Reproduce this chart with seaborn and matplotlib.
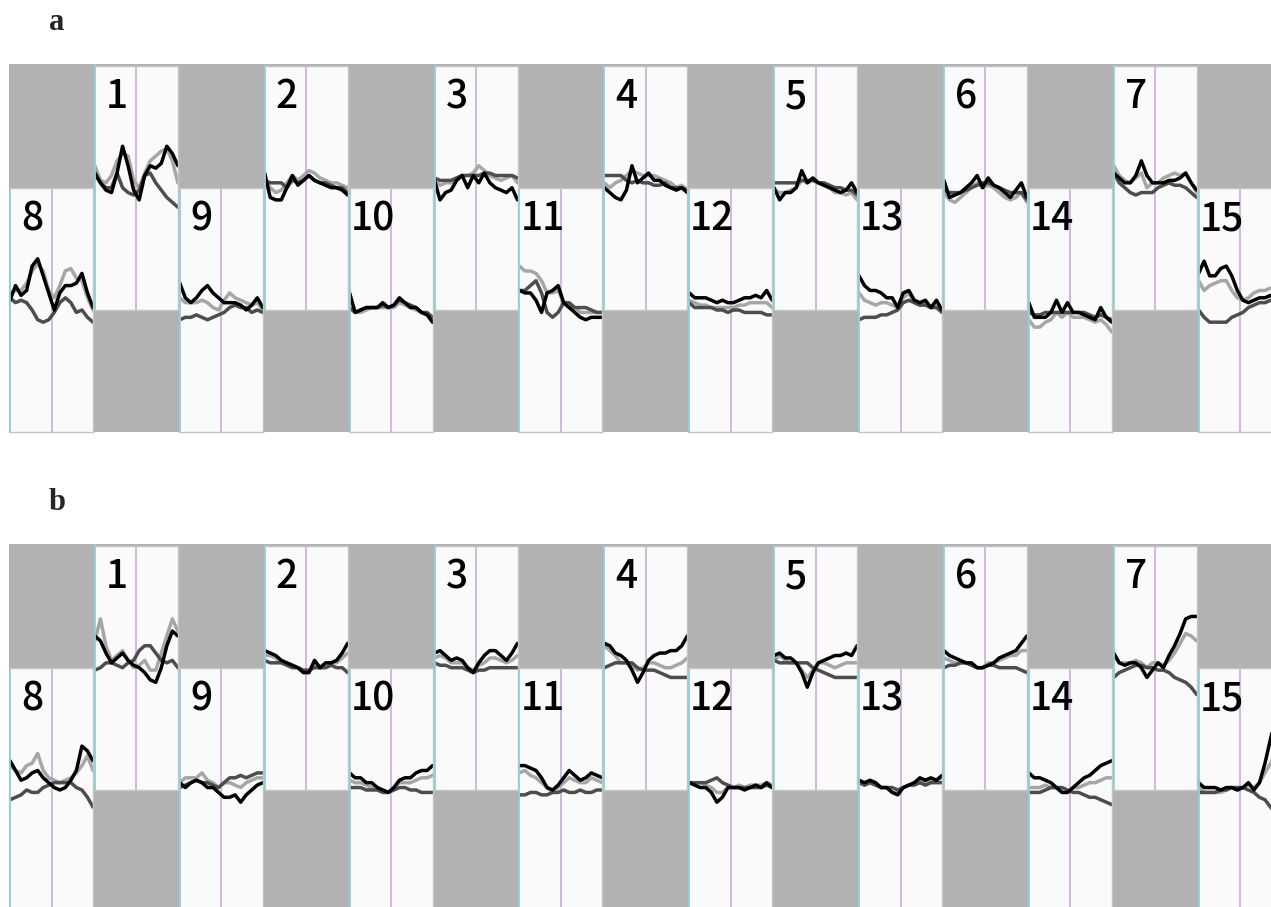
import numpy as np
import pandas as pd
import matplotlib
matplotlib.use("Agg")
import matplotlib.pyplot as plt
import seaborn as sns
from matplotlib.patches import Rectangle

# trace values, % of panel height, 16 samples per trace, keyed by panel number
a_black = {
    1: [56, 52, 49, 48, 56, 67, 59, 49, 45, 55, 59, 58, 60, 67, 64, 59],
    2: [56, 46, 45, 45, 50, 55, 51, 53, 55, 53, 52, 51, 50, 50, 49, 47],
    3: [53, 45, 48, 49, 53, 55, 50, 55, 52, 56, 52, 50, 49, 48, 50, 45],
    4: [50, 48, 46, 45, 49, 59, 52, 54, 56, 53, 53, 51, 50, 49, 50, 48],
    5: [50, 45, 48, 48, 50, 57, 52, 54, 52, 51, 50, 49, 48, 49, 52, 48],
    6: [53, 46, 47, 48, 50, 52, 55, 50, 54, 51, 50, 48, 46, 49, 52, 46],
    7: [56, 54, 52, 52, 55, 61, 55, 52, 52, 52, 53, 53, 54, 56, 52, 49],
    8: [54, 60, 56, 58, 68, 71, 64, 57, 50, 57, 60, 60, 61, 65, 57, 51],
    9: [61, 55, 53, 55, 58, 60, 57, 55, 53, 53, 53, 52, 50, 52, 55, 51],
    10: [57, 49, 50, 51, 51, 51, 53, 51, 52, 55, 53, 51, 51, 49, 48, 45],
    11: [58, 57, 57, 54, 49, 57, 58, 60, 53, 51, 49, 47, 46, 47, 47, 47],
    12: [57, 55, 55, 55, 54, 53, 54, 53, 53, 54, 55, 55, 56, 55, 58, 54],
    13: [64, 60, 58, 58, 57, 55, 55, 51, 57, 58, 54, 53, 54, 51, 54, 50],
    14: [53, 47, 47, 47, 49, 54, 49, 53, 49, 49, 48, 47, 46, 51, 47, 45],
    15: [65, 70, 64, 64, 67, 68, 64, 58, 54, 53, 54, 55, 55, 56, 55, 55],
}
a_dark = {
    1: [56, 52, 50, 50, 56, 50, 48, 47, 49, 55, 56, 52, 49, 46, 44, 42],
    2: [53, 52, 52, 52, 50, 53, 52, 53, 55, 53, 52, 52, 51, 50, 50, 48],
    3: [54, 53, 53, 53, 54, 55, 55, 55, 55, 56, 56, 55, 55, 55, 55, 54],
    4: [55, 55, 55, 55, 53, 52, 53, 52, 52, 51, 51, 52, 50, 50, 50, 49],
    5: [52, 52, 52, 52, 52, 53, 53, 53, 52, 52, 51, 50, 50, 49, 49, 47],
    6: [49, 48, 48, 48, 49, 50, 51, 52, 52, 51, 50, 49, 48, 48, 48, 45],
    7: [56, 52, 50, 48, 47, 48, 48, 48, 50, 51, 52, 51, 51, 50, 48, 46],
    8: [55, 53, 54, 53, 50, 46, 45, 46, 49, 53, 55, 53, 49, 50, 47, 45],
    9: [46, 47, 47, 48, 47, 46, 47, 48, 49, 51, 52, 51, 51, 49, 50, 49],
    10: [51, 49, 50, 51, 51, 51, 52, 51, 52, 54, 53, 52, 51, 49, 49, 47],
    11: [58, 58, 60, 62, 57, 49, 47, 49, 53, 53, 51, 51, 51, 50, 49, 49],
    12: [53, 51, 51, 51, 51, 50, 50, 49, 50, 50, 49, 49, 49, 49, 48, 48],
    13: [46, 47, 47, 47, 48, 48, 49, 50, 53, 54, 53, 52, 52, 51, 51, 49],
    14: [49, 48, 48, 49, 49, 49, 49, 49, 49, 49, 49, 48, 47, 48, 47, 46],
    15: [50, 47, 45, 45, 45, 45, 47, 48, 49, 51, 52, 53, 53, 54, 54, 54],
}
a_light = {
    1: [59, 53, 52, 55, 61, 64, 63, 53, 50, 56, 61, 63, 65, 66, 61, 52],
    2: [53, 50, 48, 49, 52, 55, 53, 55, 57, 56, 54, 53, 52, 52, 51, 50],
    3: [53, 51, 52, 52, 54, 55, 55, 56, 59, 57, 55, 54, 53, 54, 55, 52],
    4: [52, 50, 52, 53, 55, 57, 56, 55, 55, 55, 54, 53, 52, 50, 51, 49],
    5: [49, 48, 48, 49, 50, 53, 52, 53, 52, 51, 50, 48, 48, 47, 48, 45],
    6: [48, 45, 44, 46, 48, 50, 52, 50, 51, 50, 48, 46, 45, 46, 48, 44],
    7: [59, 55, 53, 52, 54, 56, 50, 52, 52, 54, 55, 56, 55, 56, 52, 48],
    8: [57, 58, 58, 61, 66, 69, 66, 58, 55, 60, 66, 67, 63, 62, 55, 50],
    9: [55, 53, 53, 53, 54, 53, 51, 50, 54, 57, 55, 54, 53, 52, 53, 50],
    10: [51, 49, 49, 50, 51, 51, 51, 51, 51, 53, 52, 51, 50, 49, 48, 46],
    11: [68, 66, 66, 65, 62, 57, 57, 58, 53, 51, 51, 49, 49, 49, 49, 49],
    12: [54, 53, 52, 52, 51, 51, 51, 51, 51, 52, 52, 53, 53, 53, 53, 51],
    13: [57, 54, 53, 52, 53, 53, 52, 51, 55, 57, 53, 52, 53, 51, 52, 49],
    14: [46, 43, 43, 45, 46, 49, 47, 49, 47, 47, 47, 46, 45, 46, 44, 41],
    15: [62, 58, 60, 61, 62, 62, 58, 55, 54, 55, 57, 58, 58, 59, 58, 58],
}
b_black = {
    1: [63, 61, 56, 52, 54, 56, 53, 51, 50, 48, 45, 44, 50, 59, 65, 63],
    2: [57, 56, 55, 53, 52, 51, 50, 48, 48, 53, 50, 52, 52, 53, 56, 60],
    3: [56, 57, 55, 53, 54, 53, 50, 48, 52, 55, 57, 57, 55, 53, 56, 60],
    4: [60, 59, 56, 55, 53, 49, 44, 48, 53, 55, 56, 56, 57, 57, 59, 63],
    5: [55, 56, 54, 54, 52, 48, 42, 48, 52, 53, 54, 55, 55, 56, 55, 59],
    6: [57, 55, 54, 53, 52, 52, 50, 50, 51, 52, 54, 55, 56, 57, 60, 63],
    7: [56, 52, 51, 52, 52, 50, 46, 49, 52, 50, 55, 59, 64, 70, 71, 71],
    8: [62, 58, 54, 55, 57, 58, 55, 53, 51, 50, 51, 54, 58, 68, 66, 62],
    9: [53, 51, 53, 54, 53, 51, 51, 49, 47, 47, 48, 45, 48, 50, 52, 53],
    10: [57, 55, 55, 53, 53, 51, 50, 49, 51, 54, 55, 55, 57, 58, 58, 60],
    11: [60, 60, 59, 58, 55, 51, 50, 52, 55, 58, 56, 54, 55, 57, 56, 55],
    12: [53, 52, 51, 51, 49, 45, 47, 51, 51, 51, 50, 51, 52, 51, 53, 51],
    13: [54, 53, 54, 53, 51, 51, 49, 48, 51, 52, 53, 55, 54, 55, 54, 56],
    14: [57, 55, 55, 54, 53, 51, 49, 49, 51, 53, 55, 56, 58, 60, 61, 62],
    15: [53, 51, 51, 51, 50, 51, 51, 50, 51, 53, 50, 53, 61, 71, 80, 88],
}
b_dark = {
    1: [49, 50, 52, 52, 51, 50, 52, 53, 57, 59, 59, 56, 53, 52, 53, 50],
    2: [53, 52, 52, 52, 51, 50, 50, 49, 49, 50, 50, 50, 51, 50, 50, 48],
    3: [52, 51, 51, 50, 50, 50, 49, 48, 49, 49, 50, 50, 50, 50, 50, 50],
    4: [50, 51, 52, 52, 52, 52, 50, 49, 49, 49, 48, 47, 46, 46, 46, 46],
    5: [53, 52, 52, 52, 52, 52, 52, 50, 49, 48, 47, 46, 46, 46, 46, 46],
    6: [50, 51, 51, 52, 52, 51, 50, 50, 51, 51, 50, 50, 50, 50, 49, 48],
    7: [46, 48, 49, 50, 51, 51, 50, 50, 49, 49, 48, 46, 45, 44, 42, 39],
    8: [46, 47, 48, 50, 49, 49, 51, 52, 53, 53, 53, 53, 51, 50, 47, 43],
    9: [51, 52, 53, 54, 53, 53, 52, 51, 53, 55, 55, 56, 55, 56, 57, 57],
    10: [51, 51, 51, 50, 50, 50, 49, 49, 50, 51, 51, 50, 50, 49, 49, 49],
    11: [48, 48, 49, 49, 48, 48, 49, 49, 50, 49, 49, 50, 49, 49, 50, 50],
    12: [53, 53, 53, 53, 54, 55, 53, 52, 51, 51, 51, 51, 51, 51, 52, 51],
    13: [53, 52, 53, 52, 51, 51, 51, 50, 51, 52, 52, 53, 52, 53, 53, 53],
    14: [49, 49, 49, 50, 51, 51, 51, 50, 49, 49, 48, 47, 47, 46, 45, 44],
    15: [49, 49, 49, 49, 50, 50, 51, 51, 51, 50, 49, 47, 46, 43, 40, 38],
}
b_light = {
    1: [61, 70, 59, 53, 55, 57, 53, 50, 51, 53, 49, 49, 56, 63, 70, 65],
    2: [55, 55, 54, 52, 52, 51, 50, 48, 48, 52, 50, 51, 52, 52, 54, 56],
    3: [54, 55, 54, 52, 52, 52, 50, 49, 51, 52, 54, 54, 53, 52, 53, 55],
    4: [59, 57, 55, 52, 52, 51, 49, 50, 52, 52, 51, 50, 50, 51, 52, 54],
    5: [53, 55, 53, 52, 52, 49, 46, 49, 52, 52, 51, 50, 51, 52, 52, 52],
    6: [54, 53, 52, 52, 52, 51, 50, 50, 52, 52, 53, 54, 55, 55, 57, 57],
    7: [55, 52, 52, 52, 53, 52, 50, 52, 52, 51, 53, 56, 60, 64, 63, 61],
    8: [60, 58, 57, 60, 61, 65, 58, 55, 54, 53, 54, 55, 57, 60, 64, 58],
    9: [53, 55, 55, 55, 57, 54, 53, 51, 53, 53, 52, 51, 53, 54, 55, 55],
    10: [54, 53, 53, 52, 51, 51, 50, 49, 51, 53, 53, 53, 54, 55, 55, 56],
    11: [57, 58, 56, 55, 53, 51, 49, 51, 53, 55, 54, 53, 53, 55, 54, 53],
    12: [53, 53, 53, 52, 51, 49, 49, 51, 51, 52, 51, 52, 52, 52, 53, 52],
    13: [53, 52, 53, 52, 51, 51, 49, 49, 51, 52, 53, 54, 53, 54, 54, 55],
    14: [51, 51, 51, 52, 51, 51, 49, 49, 51, 51, 52, 53, 53, 54, 55, 55],
    15: [51, 49, 49, 49, 49, 50, 51, 50, 51, 52, 51, 53, 57, 61, 65, 68],
}

W, H = 1271, 907
PITCH, PW, PH = 84.9, 83, 244
palette = {"light": "#a6a6a6", "dark": "#4d4d4d", "black": "#000000"}

sns.set_theme(style="white")
fig = plt.figure(figsize=(W / 100, H / 100), dpi=100)


def px_box(x, y, w, h):
    return [x / W, (H - y - h) / H, w / W, h / H]


def draw_group(label, top, black, dark, light):
    # gray backdrop behind the staggered panels
    fig.add_artist(Rectangle((9 / W, (H - (top - 2) - 368) / H), 1.0, 368 / H,
                             transform=fig.transFigure, facecolor="#b2b2b2",
                             edgecolor="none", zorder=0))
    fig.text(49 / W, 1 - (top - 36) / H, label, fontsize=22, fontweight="bold",
             family="Liberation Serif", ha="left", va="baseline")
    for k in range(15):
        if k % 2:
            num, y0 = (k + 1) // 2, top
        else:
            num, y0 = 8 + k // 2, top + 122.3
        ax = fig.add_axes(px_box(10 + PITCH * k, y0, PW, PH))
        ax.set_facecolor("#fafafa")
        df = pd.DataFrame({
            "t": np.tile(np.arange(16), 3),
            "v": light[num] + dark[num] + black[num],
            "trace": ["light"] * 16 + ["dark"] * 16 + ["black"] * 16,
        })
        ax.axvline(7.5, color="#c8a6d8", lw=1.1, zorder=0)
        sns.lineplot(data=df, x="t", y="v", hue="trace",
                     hue_order=["light", "dark", "black"], palette=palette,
                     lw=2.5, legend=False, ax=ax, estimator=None, sort=False)
        ax.set(xlim=(0, 15), ylim=(0, 100), xticks=[], yticks=[],
               xlabel="", ylabel="")
        for side in ["top", "right", "bottom"]:
            ax.spines[side].set_color("#c4c4c4")
            ax.spines[side].set_linewidth(1.0)
        ax.spines["left"].set_color("#8fd0dc")
        ax.spines["left"].set_linewidth(1.3)
        xoff = 11 if num < 10 else 1
        ax.text(xoff / PW, 1 - 42.5 / PH, str(num), transform=ax.transAxes,
                fontsize=28, fontweight="medium",
                family=["Noto Sans CJK JP", "DejaVu Sans"],
                ha="left", va="baseline", color="black")


draw_group("a", 65.7, a_black, a_dark, a_light)
draw_group("b", 545.7, b_black, b_dark, b_light)

fig.savefig("out.png", dpi=100, facecolor="white")
